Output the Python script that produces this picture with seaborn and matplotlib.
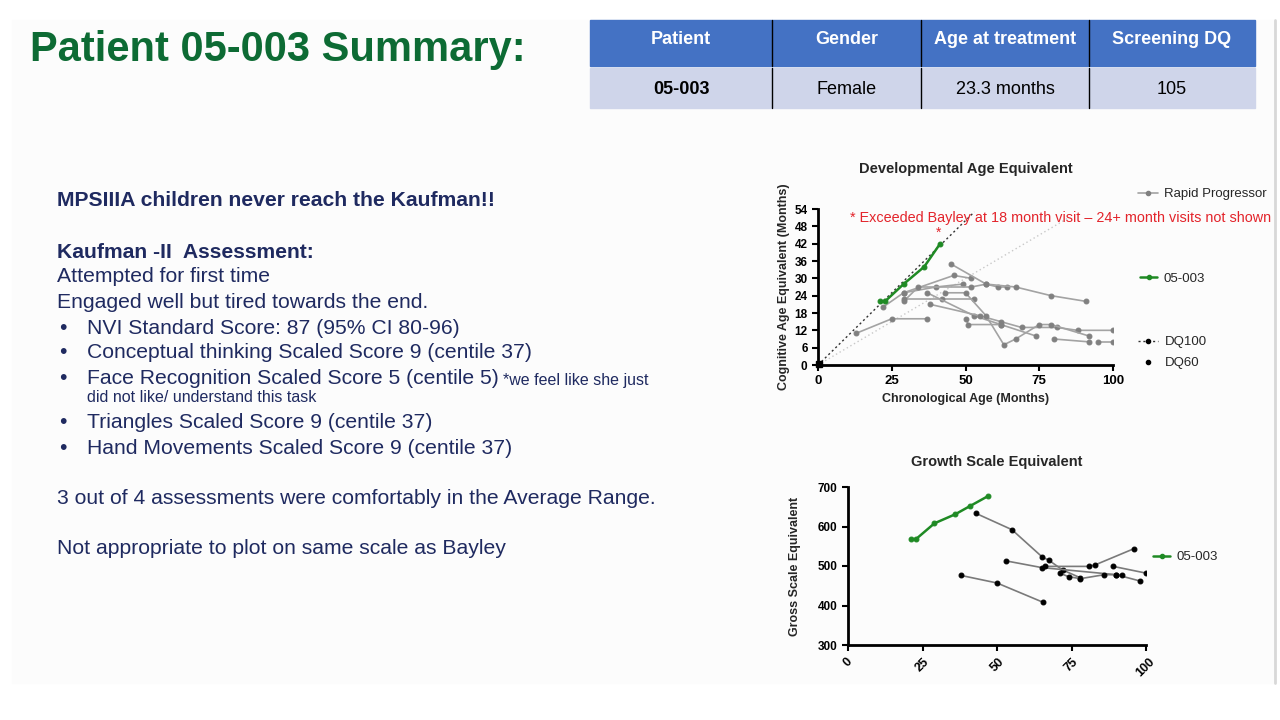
import pandas as pd
import seaborn as sns
import matplotlib.pyplot as plt
from matplotlib.lines import Line2D
from matplotlib.patches import Rectangle

# ---- data ----
table_header = ["Patient", "Gender", "Age at treatment", "Screening DQ"]
table_row = ["05-003", "Female", "23.3 months", "105"]

# developmental age equivalent (months)
pt_x = [21, 22.7, 29, 36, 41.4]
pt_y = [22, 22, 28, 34, 42]

rapid = {
    "r1": ([13, 25, 37], [11, 16, 16]),
    "r2": ([22, 29, 46, 52], [20, 25, 31, 30]),
    "r3": ([29, 34, 52, 57, 61, 64], [22, 27, 27, 28, 27, 27]),
    "r4": ([29, 42, 53], [23, 23, 23]),
    "r5": ([45, 57, 67, 79, 91], [35, 28, 27, 24, 22]),
    "r6": ([37, 53, 62, 74], [25, 17, 14, 10]),
    "r7": ([38, 55, 62, 69, 81, 88, 100], [21, 17, 15, 13, 13, 12, 12]),
    "r8": ([43, 50, 57, 63, 67, 75, 79, 92], [25, 25, 17, 7, 9, 14, 14, 10]),
    "r9": ([50, 51, 62], [16, 14, 14]),
    "r10": ([80, 92], [9, 8]),
    "r11": ([95, 100], [8, 8]),
    "r12": ([29, 40, 49], [25, 27, 28]),
}

dq100_x = [0, 53]
dq100_y = [0, 53]
dq60_x = [0, 85]
dq60_y = [0, 51]

# growth scale equivalent
gs_pt_x = [21, 22.8, 29, 36, 41, 47]
gs_pt_y = [568, 568, 608, 631, 652, 677]

growth = {
    "g1": ([43, 55, 65, 67.5, 72, 78], [633, 592, 524, 514, 490, 470]),
    "g2": ([38, 50, 65.5], [476, 457, 408]),
    "g3": ([53, 65, 90, 98], [513, 496, 478, 462]),
    "g4": ([66, 81, 83, 96], [499, 499, 503, 544]),
    "g5": ([71, 74, 78, 86, 90, 92], [482, 473, 468, 478, 478, 478]),
    "g6": ([89, 100], [499, 482]),
}


def to_long(d):
    rows = []
    for k, (xs, ys) in d.items():
        for x, y in zip(xs, ys):
            rows.append({"id": k, "x": x, "y": y})
    return pd.DataFrame(rows)


rapid_df = to_long(rapid)
growth_df = to_long(growth)

sns.set_style("white")
plt.rcParams["font.family"] = ["Liberation Sans", "DejaVu Sans"]

W, H = 1280, 720
fig = plt.figure(figsize=(12.8, 7.2), dpi=100)

# background / slide layer in pixel coords
bg = fig.add_axes([0, 0, 1, 1], zorder=0)
bg.set_xlim(0, W)
bg.set_ylim(H, 0)
bg.axis("off")
bg.add_patch(Rectangle((12, 20), 1263, 663, color="#fcfcfc", zorder=0))
bg.plot([1275, 1275], [20, 683], color="#d8d8d8", lw=2)

green_title = "#0d6b34"
navy = "#1f2a60"
body = 15.2
bg.text(30, 50, "Patient 05-003 Summary:", color=green_title, fontsize=30,
        fontweight="bold", va="center", ha="left")

# table
col_edges = [590, 772, 921, 1089, 1255]
bg.add_patch(Rectangle((590, 20), 665, 46, color="#4472c4"))
bg.add_patch(Rectangle((590, 68), 665, 40, color="#cfd5ea"))
for i in range(4):
    cx = (col_edges[i] + col_edges[i + 1]) / 2
    bg.text(cx, 40, table_header[i], color="white", fontsize=13,
            fontweight="bold", ha="center", va="center")
    bg.text(cx, 89, table_row[i], color="black", fontsize=13,
            fontweight="bold" if i == 0 else "normal", ha="center", va="center")
for e in col_edges[1:-1]:
    bg.plot([e, e], [20, 66], color="black", lw=1)
    bg.plot([e, e], [68, 108], color="black", lw=1)

# text block
bg.text(57, 200, "MPSIIIA children never reach the Kaufman!!", color=navy,
        fontsize=body, fontweight="bold", va="center")
bg.text(57, 252, "Kaufman -II  Assessment:", color=navy, fontsize=body,
        fontweight="bold", va="center")
bg.text(57, 277, "Attempted for first time", color=navy, fontsize=body, va="center")
bg.text(57, 302, "Engaged well but tired towards the end.", color=navy,
        fontsize=body, va="center")
bullets = [
    (328, "NVI Standard Score: 87 (95% CI 80-96)"),
    (353, "Conceptual thinking Scaled Score 9 (centile 37)"),
    (379, "Face Recognition Scaled Score 5 (centile 5)"),
    (423, "Triangles Scaled Score 9 (centile 37)"),
    (448, "Hand Movements Scaled Score 9 (centile 37)"),
]
for y, s in bullets:
    bg.text(59, y, "•", color=navy, fontsize=body, va="center")
    bg.text(87, y, s, color=navy, fontsize=body, va="center")
bg.text(503, 381, "*we feel like she just", color=navy, fontsize=11.5, va="center")
bg.text(87, 398, "did not like/ understand this task", color=navy,
        fontsize=11.5, va="center")
bg.text(57, 498, "3 out of 4 assessments were comfortably in the Average Range.",
        color=navy, fontsize=body, va="center")
bg.text(57, 549, "Not appropriate to plot on same scale as Bayley", color=navy,
        fontsize=body, va="center")

green = "#1f8a24"
gray = "#a3a3a3"


def style_axes(ax, xsize=8.5, ysize=8.5):
    sns.despine(ax=ax)
    for s in ["left", "bottom"]:
        ax.spines[s].set_linewidth(2)
        ax.spines[s].set_color("black")
    ax.tick_params(axis="both", direction="out", length=4, width=1.5,
                   colors="black", left=True, bottom=True)
    ax.tick_params(axis="x", labelsize=xsize)
    ax.tick_params(axis="y", labelsize=ysize)
    for lab in ax.get_xticklabels() + ax.get_yticklabels():
        lab.set_fontweight("bold")
    ax.patch.set_alpha(0)


def put_legend(ax, handle, label, x, y, hl=1.5):
    leg = ax.legend([handle], [label], loc="center left",
                    bbox_to_anchor=(x / W, 1 - y / H), bbox_transform=fig.transFigure,
                    frameon=False, fontsize=9.5, handlelength=hl, borderpad=0,
                    borderaxespad=0, handletextpad=0.5)
    ax.add_artist(leg)


# ---- top chart ----
ax1 = fig.add_axes([818 / W, 1 - 365 / H, 295 / W, 156 / H], zorder=2)
sns.lineplot(x=dq60_x, y=dq60_y, ax=ax1, color="#c8c8c8", lw=1, linestyle=(0, (1, 2)))
sns.lineplot(x=dq100_x, y=dq100_y, ax=ax1, color="#333333", lw=1, linestyle=(0, (1.5, 2)))
sns.lineplot(data=rapid_df, x="x", y="y", units="id", estimator=None, sort=False,
             ax=ax1, color=gray, lw=1.2, marker="o", markersize=3.5,
             markerfacecolor="#808080", markeredgecolor="#808080")
sns.lineplot(x=pt_x, y=pt_y, ax=ax1, color=green, lw=1.8, marker="o",
             markersize=3.5, markeredgecolor=green, sort=False)
ax1.plot([0.5], [0.5], marker="s", color="black", markersize=4, clip_on=False)
ax1.text(pt_x[-1] - 0.5, pt_y[-1] + 1.5, "*", color="#e3242b", fontsize=10,
         ha="center", va="bottom")
ax1.set_xlim(0, 100)
ax1.set_ylim(0, 54)
ax1.set_xticks([0, 25, 50, 75, 100])
ax1.set_yticks(range(0, 55, 6))
ax1.set_xlabel("Chronological Age (Months)", fontsize=9, fontweight="bold")
ax1.set_ylabel("Cognitive Age Equivalent (Months)", fontsize=9, fontweight="bold",
               labelpad=3)
style_axes(ax1, xsize=9.5, ysize=8.5)
ax1.set_title("Developmental Age Equivalent", fontsize=10.5, fontweight="bold",
              pad=26)

put_legend(ax1, Line2D([], [], color=gray, lw=1.2, marker="o", markersize=3,
                       markerfacecolor="#808080", markeredgecolor="#808080"),
           "Rapid Progressor", 1138, 194)
put_legend(ax1, Line2D([], [], color=green, lw=1.8, marker="o", markersize=3),
           "05-003", 1140, 279, hl=1.3)
put_legend(ax1, Line2D([], [], color="#333333", lw=1, linestyle=(0, (1.5, 2)),
                       marker="o", markersize=3, markerfacecolor="black",
                       markeredgecolor="black"), "DQ100", 1138, 342)
put_legend(ax1, Line2D([], [], color="white", lw=0, marker="o", markersize=3,
                       markerfacecolor="black", markeredgecolor="black"),
           "DQ60", 1138, 363)
ax1.legend_ = None

fig.text(850 / W, 1 - 218 / H,
         "* Exceeded Bayley at 18 month visit \u2013 24+ month visits not shown",
         color="#e3242b", fontsize=10.4, va="center", ha="left", zorder=5)

# ---- bottom chart ----
ax2 = fig.add_axes([848 / W, 1 - 645 / H, 298 / W, 158 / H], zorder=2)
sns.lineplot(data=growth_df, x="x", y="y", units="id", estimator=None, sort=False,
             ax=ax2, color="#7a7a7a", lw=1.2, marker="o", markersize=3.5,
             markerfacecolor="black", markeredgecolor="black")
sns.lineplot(x=gs_pt_x, y=gs_pt_y, ax=ax2, color=green, lw=1.8, marker="o",
             markersize=3.5, markeredgecolor=green, sort=False)
ax2.set_xlim(0, 100)
ax2.set_ylim(300, 700)
ax2.set_xticks([0, 25, 50, 75, 100])
ax2.set_yticks([300, 400, 500, 600, 700])
ax2.set_xlabel("")
ax2.set_ylabel("Gross Scale Equivalent", fontsize=9, fontweight="bold", labelpad=12)
style_axes(ax2, xsize=9, ysize=8.5)
for lab in ax2.get_xticklabels():
    lab.set_rotation(45)
    lab.set_ha("center")
    lab.set_va("top")
ax2.set_title("Growth Scale Equivalent", fontsize=10.5, fontweight="bold", pad=15,
              x=0.5)
put_legend(ax2, Line2D([], [], color=green, lw=1.8, marker="o", markersize=3),
           "05-003", 1153, 557, hl=1.3)
ax2.legend_ = None

plt.savefig("out.png", dpi=100)
